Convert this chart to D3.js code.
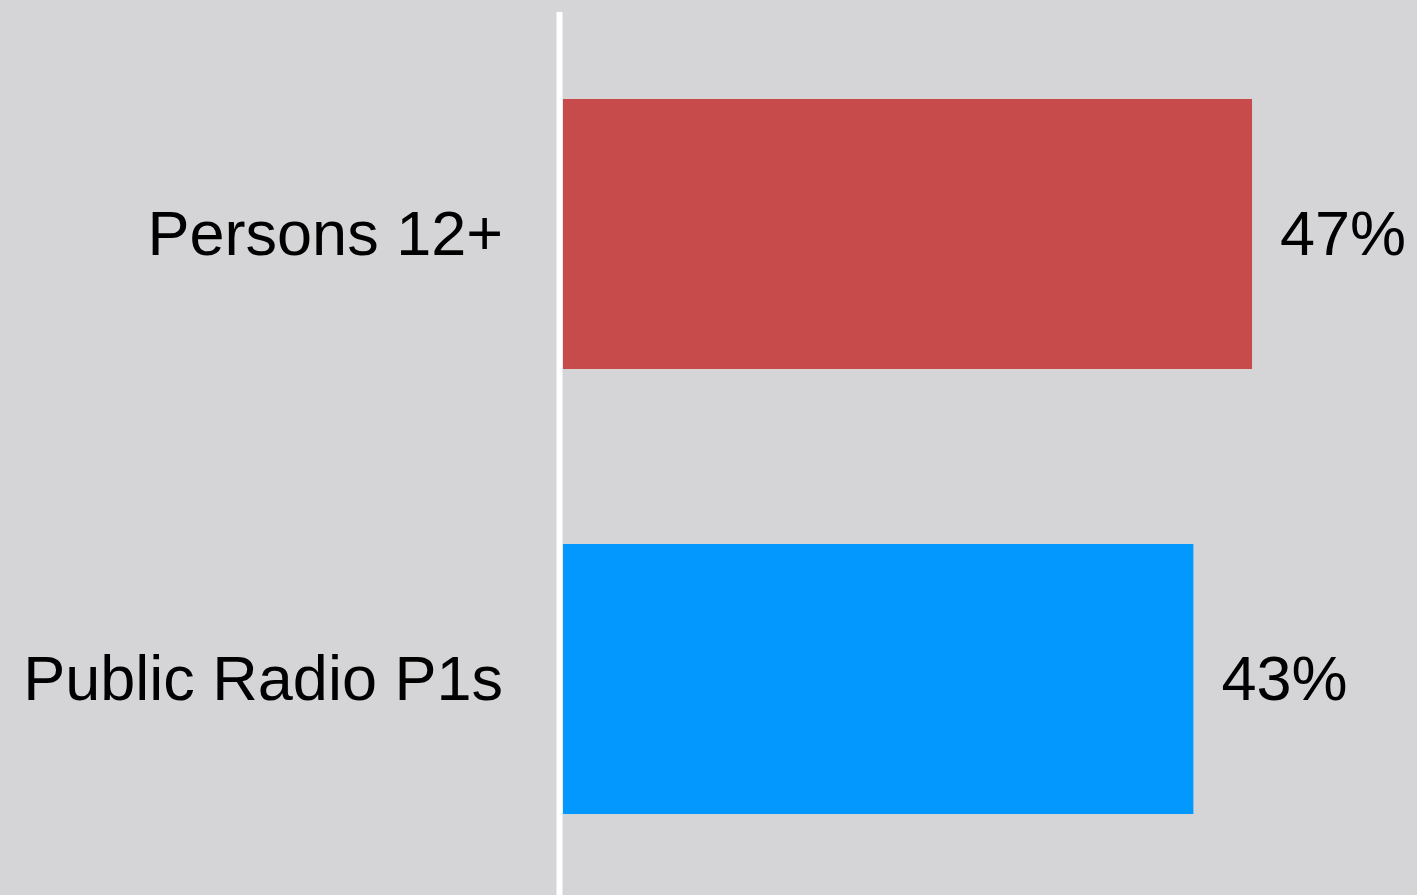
<!DOCTYPE html>
<html>
<head>
<meta charset="utf-8">
<script src="https://cdn.jsdelivr.net/npm/d3@7"></script>
<style>
  html, body { margin: 0; padding: 0; background: #d5d5d8; }
  text { font-family: "Liberation Sans", Arial, sans-serif; fill: #000; }
</style>
</head>
<body>
<div id="main"></div>
<script>
const ctx = {
    w: 1417,
    h: 895,
    x0: 563,
    fontSize: 63,
};

// categories and their values (percent)
const CATEGORIES = ["Persons 12+", "Public Radio P1s"];
const VALUES = [47, 43];
const COLORS = ["#c64b4a", "#0398fd"];

function createChart(svgEl) {
    let xScale = d3.scaleLinear()
        .domain([0, 50])
        .range([ctx.x0, ctx.x0 + 733]);
    let yScale = d3.scaleBand()
        .domain(CATEGORIES)
        .range([18, 895])
        .paddingInner(0.3933)
        .paddingOuter(0.182);

    // bars
    svgEl.selectAll("rect.bar")
        .data(CATEGORIES)
        .enter()
        .append("rect")
        .classed("bar", true)
        .attr("x", xScale(0))
        .attr("y", (d) => yScale(d))
        .attr("width", (d, i) => xScale(VALUES[i]) - xScale(0))
        .attr("height", yScale.bandwidth())
        .attr("fill", (d, i) => COLORS[i]);

    // vertical baseline
    svgEl.append("line")
        .attr("x1", xScale(0) - 3.5)
        .attr("x2", xScale(0) - 3.5)
        .attr("y1", 12)
        .attr("y2", ctx.h)
        .attr("stroke", "#ffffff")
        .attr("stroke-width", 6);

    // category labels
    svgEl.selectAll("text.cat")
        .data(CATEGORIES)
        .enter()
        .append("text")
        .classed("cat", true)
        .attr("x", 503)
        .attr("y", (d) => yScale(d) + yScale.bandwidth() / 2)
        .attr("dy", "0.34em")
        .attr("text-anchor", "end")
        .style("font-size", ctx.fontSize + "px")
        .text((d) => d);

    // value labels
    svgEl.selectAll("text.val")
        .data(CATEGORIES)
        .enter()
        .append("text")
        .classed("val", true)
        .attr("x", (d, i) => xScale(VALUES[i]) + 28)
        .attr("y", (d) => yScale(d) + yScale.bandwidth() / 2)
        .attr("dy", "0.34em")
        .style("font-size", ctx.fontSize + "px")
        .text((d, i) => VALUES[i] + "%");
}

function createViz() {
    let svgEl = d3.select("#main").append("svg")
        .attr("width", ctx.w)
        .attr("height", ctx.h)
        .style("display", "block");
    svgEl.append("rect")
        .attr("width", ctx.w)
        .attr("height", ctx.h)
        .attr("fill", "#d5d5d8");
    createChart(svgEl);
}

createViz();
</script>
</body>
</html>
